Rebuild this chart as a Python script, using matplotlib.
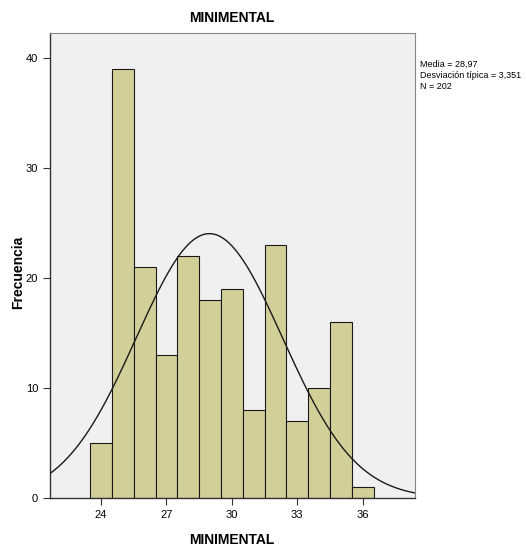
import numpy as np
import matplotlib
matplotlib.use("Agg")
import matplotlib.pyplot as plt

# Data
bin_values = [24, 25, 26, 27, 28, 29, 30, 31, 32, 33, 34, 35, 36]
counts = [5, 39, 21, 13, 22, 18, 19, 8, 23, 7, 10, 16, 1]
mean_val = 28.97
sd_val = 3.351
n_val = 202
x_ticks = [24, 27, 30, 33, 36]
y_ticks = [0, 10, 20, 30, 40]

narrow = ['Liberation Sans Narrow', 'Liberation Sans', 'DejaVu Sans']
plt.rcParams['font.family'] = narrow

fig = plt.figure(figsize=(5.26, 5.48), dpi=100)
ax = fig.add_axes([50/526, 1 - 498/548, (415-50)/526, (498-33)/548])
ax.set_facecolor('#F0F0F0')

ax.bar(bin_values, counts, width=1.0, color='#D3CF99', edgecolor='#1a1a1a', linewidth=0.8, zorder=2)

xs = np.linspace(21.66, 38.4, 400)
ys = n_val * 1.0 / (sd_val * np.sqrt(2 * np.pi)) * np.exp(-0.5 * ((xs - mean_val) / sd_val) ** 2)
ax.plot(xs, ys, color='#1a1a1a', linewidth=1.0, zorder=3)

ax.set_xlim(21.66, 38.4)
ax.set_ylim(0, 42.3)
ax.set_xticks(x_ticks)
ax.set_yticks(y_ticks)
ax.tick_params(axis='both', labelsize=8, length=5, width=0.8, color='#333333', direction='out')
for s in ['left', 'bottom']:
    ax.spines[s].set_color('#333333')
    ax.spines[s].set_linewidth(1.0)
for s in ['top', 'right']:
    ax.spines[s].set_color('#888888')
    ax.spines[s].set_linewidth(0.8)

fig.text(232/526, 1 - 18/548, 'MINIMENTAL', ha='center', va='center', fontsize=10, fontweight='bold')
fig.text(232/526, 1 - 540/548, 'MINIMENTAL', ha='center', va='center', fontsize=10, fontweight='bold')
fig.text(18/526, 1 - 272/548, 'Frecuencia', ha='center', va='center', rotation=90,
         fontsize=10, fontweight='bold', family=['Liberation Sans', 'DejaVu Sans'])

fig.text(420/526, 1 - 75/548, 'Media = 28,97\nDesviación típica = 3,351\nN = 202',
         ha='left', va='center', fontsize=6.5, linespacing=1.3)

fig.savefig('out.png', dpi=100)
